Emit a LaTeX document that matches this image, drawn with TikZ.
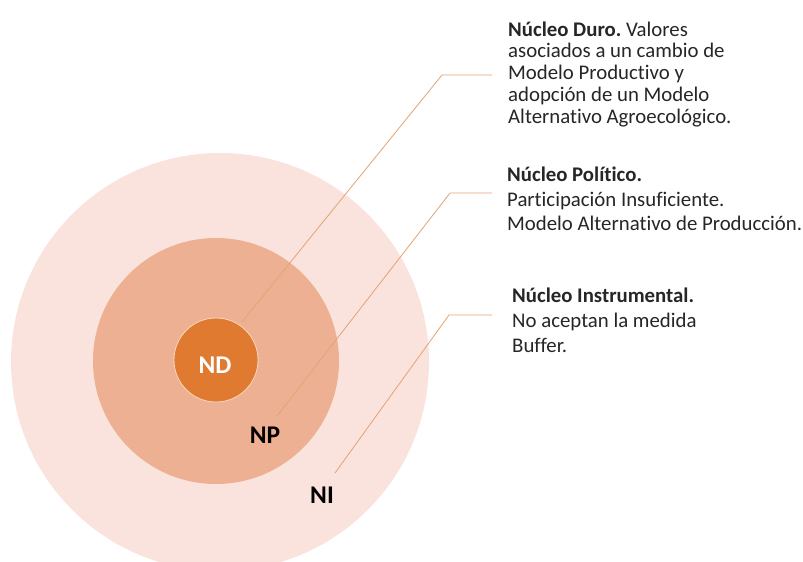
\documentclass[tikz,border=0pt]{standalone}
\usepackage{fontspec}
\setmainfont{Carlito}[Ligatures=NoCommon]
\frenchspacing
\definecolor{outerc}{HTML}{F9E3DC}
\definecolor{midc}{HTML}{EEB092}
\definecolor{innerc}{HTML}{E07A30}
\definecolor{innerb}{HTML}{F6D9C2}
\definecolor{linec}{HTML}{E3A473}
\definecolor{txtc}{HTML}{262626}
\begin{document}
\begin{tikzpicture}[x=1pt,y=-1pt,
  txt/.style={anchor=base west, inner sep=0pt, font=\fontsize{20.8}{24}\selectfont, text=txtc},
  lbl/.style={inner sep=0pt, font=\fontsize{25.5}{28}\selectfont\bfseries},
  conn/.style={draw=linec, line width=0.8pt},
  disc/.style={circle, inner sep=0pt, draw=none}]
\useasboundingbox (0,0) rectangle (803,562);
\clip (0,0) rectangle (803,562);
\fill[white] (0,0) rectangle (803,562);
% circles
\node[disc, fill=outerc, minimum size=418pt] (outer) at (220,362) {};
\node[disc, fill=midc, minimum size=246pt] (middle) at (216,361) {};
\node[disc, fill=innerc, draw=innerb, line width=0.8pt, minimum size=84pt] (inner) at (216,360) {};
% labels
\node[lbl, text=white] (ND) at (215,365) {ND};
\node[lbl, text=black] (NP) at (265,435) {NP};
\node[lbl, text=black] (NI) at (322,495) {NI};
% text blocks
\node[txt] (nd1) at (508,36) {\textbf{Núcleo Duro.} Valores};
\node[txt] (nd2) at (508,57.7) {asociados a un cambio de};
\node[txt] (nd3) at (508,79.4) {Modelo Productivo y};
\node[txt] (nd4) at (508,101) {adopción de un Modelo};
\node[txt] (nd5) at (508,123) {Alternativo Agroecológico.};
\node[txt] (np1) at (507,181) {\textbf{Núcleo Político.}};
\node[txt] (np2) at (507,206) {Participación Insuficiente.};
\node[txt] (np3) at (507,230) {Modelo Alternativo de Producción.};
\node[txt] (ni1) at (512,302) {\textbf{Núcleo Instrumental.}};
\node[txt] (ni2) at (512,327) {No aceptan la medida};
\node[txt] (ni3) at (512,352) {Buffer.};
% connector points
\coordinate (ndS) at (242,322);
\coordinate (ndE) at (442,75);
\coordinate (ndT) at (492,75);
\coordinate (npS) at (277,416);
\coordinate (npE) at (450,193);
\coordinate (npT) at (492,193);
\coordinate (niS) at (335,473);
\coordinate (niE) at (449,315);
\coordinate (niT) at (492,315);
\draw[conn] (ndS) -- (ndE) -- (ndT);
\draw[conn] (npS) -- (npE) -- (npT);
\draw[conn] (niS) -- (niE) -- (niT);
\end{tikzpicture}
\end{document}
